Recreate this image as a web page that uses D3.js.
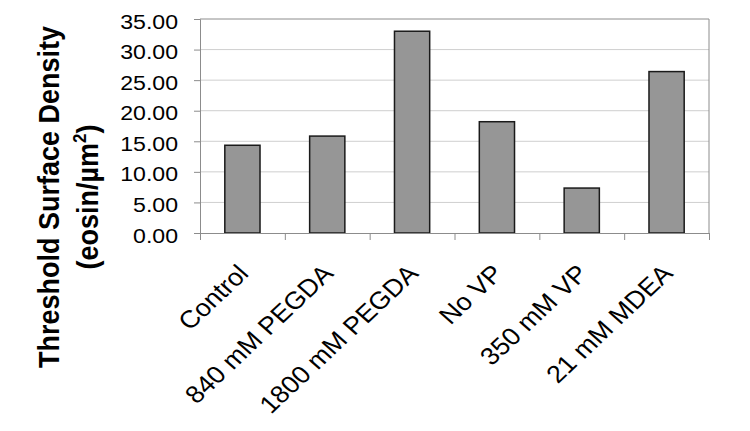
<!DOCTYPE html>
<html>
<head>
<meta charset="utf-8">
<script src="https://cdn.jsdelivr.net/npm/d3@7"></script>
<style>
  body { margin: 0; background: #fff; }
  text { font-family: "Liberation Sans", Arial, sans-serif; fill: #000; }
</style>
</head>
<body>
<div class="canvas"></div>
<script>
// ---- DATA --- //
const categories = ['Control', '840 mM PEGDA', '1800 mM PEGDA', 'No VP', '350 mM VP', '21 mM MDEA'];
const values = [14.35, 15.85, 33.0, 18.2, 7.35, 26.4];
const yTicks = [0, 5, 10, 15, 20, 25, 30, 35];

// ---- SETUP --- //
const width = 750, height = 431;
const plot = { left: 200, right: 709, top: 19, bottom: 233 };
const stretch = 1.1; // text in the picture is a bit wide

const svg = d3.select('.canvas')
    .append('svg')
    .attr('width', width)
    .attr('height', height);

// ---- SCALES --- //
const x = d3.scaleBand()
    .domain(categories)
    .range([plot.left, plot.right])
    .paddingInner(0.585)
    .paddingOuter(0.2925);

const xEdge = d3.scaleLinear()
    .domain([0, categories.length])
    .range([plot.left, plot.right]);

const y = d3.scaleLinear()
    .domain([0, 35])
    .range([plot.bottom, plot.top]);

// ---- GRIDLINES --- //
svg.append('g')
    .selectAll('line')
    .data(yTicks.filter(d => d > 0 && d < 35))
    .join('line')
    .attr('x1', plot.left)
    .attr('x2', plot.right)
    .attr('y1', d => y(d))
    .attr('y2', d => y(d))
    .attr('stroke', '#cfcfcf')
    .attr('stroke-width', 1);

// plot border top / right
svg.append('path')
    .attr('d', `M${plot.left},${y(35)}H${plot.right}V${plot.bottom}`)
    .attr('fill', 'none')
    .attr('stroke', '#8c8c8c')
    .attr('stroke-width', 1);

// ---- BARS --- //
svg.append('g')
    .selectAll('rect')
    .data(values)
    .join('rect')
    .attr('x', (d, i) => x(categories[i]))
    .attr('y', d => y(d))
    .attr('width', x.bandwidth())
    .attr('height', d => y(0) - y(d))
    .attr('fill', '#969696')
    .attr('stroke', '#1a1a1a')
    .attr('stroke-width', 1.5);

// ---- AXES --- //
const yAxis = d3.axisLeft(y)
    .tickValues(yTicks)
    .tickSize(6)
    .tickFormat(d3.format('.2f'));

const yAxisGroup = svg.append('g')
    .attr('transform', `translate(${plot.left},0)`)
    .call(yAxis);

yAxisGroup.select('.domain').attr('stroke', '#8c8c8c');
yAxisGroup.selectAll('.tick line').attr('stroke', '#8c8c8c');
yAxisGroup.selectAll('.tick text')
    .attr('x', 0)
    .attr('dy', '0.36em')
    .attr('transform', `translate(-22,1.5) scale(${stretch},1)`)
    .style('font-size', '21px');

const xAxis = d3.axisBottom(xEdge)
    .tickValues(d3.range(categories.length + 1))
    .tickSize(7)
    .tickFormat('');

const xAxisGroup = svg.append('g')
    .attr('transform', `translate(0,${plot.bottom})`)
    .call(xAxis);

xAxisGroup.select('.domain').attr('stroke', '#8c8c8c');
xAxisGroup.selectAll('.tick line').attr('stroke', '#8c8c8c');

// category labels, rotated
svg.append('g')
    .selectAll('text')
    .data(categories)
    .join('text')
    .attr('text-anchor', 'end')
    .attr('transform', d => `translate(${x(d) + x.bandwidth() / 2 + 7.6},${plot.bottom + 41.8}) scale(${stretch},1) rotate(-46)`)
    .style('font-size', '24.5px')
    .text(d => d);

// ---- AXIS TITLE --- //
svg.append('text')
    .attr('text-anchor', 'middle')
    .attr('transform', `translate(59,197) scale(${stretch},1) rotate(-90)`)
    .style('font-size', '27px')
    .style('font-weight', 'bold')
    .text('Threshold Surface Density');

const unit = svg.append('text')
    .attr('text-anchor', 'middle')
    .attr('transform', `translate(98,197) scale(${stretch},1) rotate(-90)`)
    .style('font-size', '27px')
    .style('font-weight', 'bold');
unit.append('tspan').text('(eosin/µm');
unit.append('tspan').attr('dy', -11).style('font-size', '17px').text('2');
unit.append('tspan').attr('dy', 11).text(')');
</script>
</body>
</html>
